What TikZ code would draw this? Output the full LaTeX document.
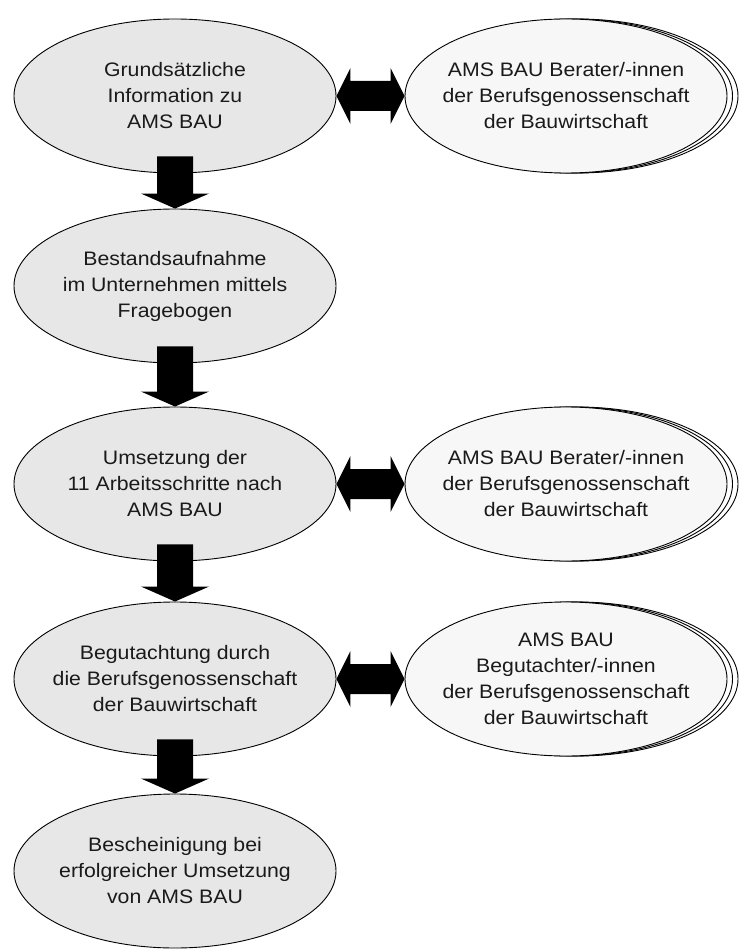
\documentclass[tikz,border=0pt]{standalone}
\usepackage{fontspec}
\setmainfont{Liberation Sans}[FakeStretch=1.09]
\usetikzlibrary{shapes.geometric,calc}
\definecolor{leftgray}{HTML}{E7E7E7}
\definecolor{rightgray}{HTML}{F7F7F7}
\definecolor{textgray}{HTML}{1A1A1A}
\tikzset{
  ellbase/.style={ellipse, draw=black, line width=0.9pt, minimum width=322pt, minimum height=154pt, inner sep=0pt},
  mainell/.style={ellbase, fill=leftgray},
  sideell/.style={ellbase, fill=rightgray},
  backell/.style={ellbase, fill=white},
  txt/.style={align=center, text=textgray, inner sep=0pt, font=\fontsize{19.5}{26}\selectfont},
  blockarrow/.style={fill=black},
}
\newcommand\DownBlk[2]{%
  \fill[blockarrow] ($(#1.south)+(-18,-17)$) -- ($(#1.south)+(18,-17)$) -- ($(#2.north)+(18,-15)$) -- ($(#2.north)+(34,-15)$) -- (#2.north) -- ($(#2.north)+(-34,-15)$) -- ($(#2.north)+(-18,-15)$) -- cycle;}
\newcommand\DblBlk[2]{%
  \fill[blockarrow] (#1.east) -- ($(#1.east)+(14,-28)$) -- ($(#1.east)+(14,-15)$) -- ($(#2.west)+(-14,-15)$) -- ($(#2.west)+(-14,-28)$) -- (#2.west) -- ($(#2.west)+(-14,28)$) -- ($(#2.west)+(-14,15)$) -- ($(#1.east)+(14,15)$) -- ($(#1.east)+(14,28)$) -- cycle;}
\begin{document}
\begin{tikzpicture}[x=1pt,y=-1pt]
\useasboundingbox[fill=white] (0,0) rectangle (739,949);

% left column
\node[mainell] (e1) at (175,96) {};
\node[txt] (e1t) at (e1.center) {Grundsätzliche\\Information zu\\AMS BAU};
\node[mainell] (e2) at (175,286) {};
\node[txt] (e2t) at (e2.center) {Bestandsaufnahme\\im Unternehmen mittels\\Fragebogen};
\node[mainell] (e3) at (175,484) {};
\node[txt] (e3t) at (e3.center) {Umsetzung der\\11 Arbeitsschritte nach\\AMS BAU};
\node[mainell] (e4) at (175,679) {};
\node[txt] (e4t) at (e4.center) {Begutachtung durch\\die Berufsgenossenschaft\\der Bauwirtschaft};
\node[mainell] (e5) at (175,871) {};
\node[txt] (e5t) at (e5.center) {Bescheinigung bei\\erfolgreicher Umsetzung\\von AMS BAU};

% right column (stacked)
\node[backell] (r1c) at (577,96) {};
\node[backell] (r1b) at (571.5,96) {};
\node[sideell] (r1) at (566,96) {};
\node[txt] (r1t) at (r1.center) {AMS BAU Berater/-innen\\der Berufsgenossenschaft\\der Bauwirtschaft};

\node[backell] (r3c) at (577,484) {};
\node[backell] (r3b) at (571.5,484) {};
\node[sideell] (r3) at (566,484) {};
\node[txt] (r3t) at (r3.center) {AMS BAU Berater/-innen\\der Berufsgenossenschaft\\der Bauwirtschaft};

\node[backell] (r4c) at (577,679) {};
\node[backell] (r4b) at (571.5,679) {};
\node[sideell] (r4) at (566,679) {};
\node[txt] (r4t) at (r4.center) {AMS BAU\\Begutachter/-innen\\der Berufsgenossenschaft\\der Bauwirtschaft};

% arrows
\DownBlk{e1}{e2}
\DownBlk{e2}{e3}
\DownBlk{e3}{e4}
\DownBlk{e4}{e5}
\DblBlk{e1}{r1}
\DblBlk{e3}{r3}
\DblBlk{e4}{r4}
\end{tikzpicture}
\end{document}
